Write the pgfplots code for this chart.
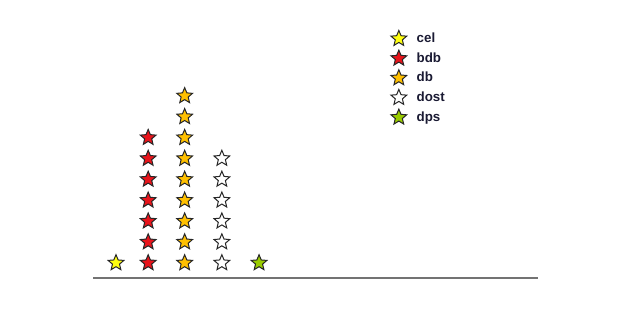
\documentclass[border=0pt]{standalone}
\usepackage{fontspec}
\setmainfont{Liberation Sans}
\usepackage{pgfplots}
\pgfplotsset{compat=1.18}
\pgfdeclareplotmark{fstar}{%
  \pgfpathmoveto{\pgfpointpolar{90}{\pgfplotmarksize}}%
  \pgfpathlineto{\pgfpointpolar{126}{0.45\pgfplotmarksize}}%
  \pgfpathlineto{\pgfpointpolar{162}{\pgfplotmarksize}}%
  \pgfpathlineto{\pgfpointpolar{198}{0.45\pgfplotmarksize}}%
  \pgfpathlineto{\pgfpointpolar{234}{\pgfplotmarksize}}%
  \pgfpathlineto{\pgfpointpolar{270}{0.45\pgfplotmarksize}}%
  \pgfpathlineto{\pgfpointpolar{306}{\pgfplotmarksize}}%
  \pgfpathlineto{\pgfpointpolar{342}{0.45\pgfplotmarksize}}%
  \pgfpathlineto{\pgfpointpolar{18}{\pgfplotmarksize}}%
  \pgfpathlineto{\pgfpointpolar{54}{0.45\pgfplotmarksize}}%
  \pgfpathclose
  \pgfusepathqfillstroke
}
\definecolor{cYel}{HTML}{FFFF10}
\definecolor{cRed}{HTML}{E8141B}
\definecolor{cGold}{HTML}{FFC000}
\definecolor{cGrn}{HTML}{99CC00}
\definecolor{cTxt}{HTML}{1A1A33}
\begin{document}
\begin{tikzpicture}
\useasboundingbox (0,0) rectangle (480pt,247.5pt);
\begin{axis}[
  at={(69.75pt,39pt)}, anchor=south west,
  scale only axis, width=333.75pt, height=152.25pt,
  xmin=0.357, xmax=12.80, ymin=0.28, ymax=10,
  axis x line=bottom, axis y line=none,
  axis line style={-, draw=black!55, line width=1.1pt},
  xtick=\empty, ytick=\empty,
  clip=false,
  every axis plot/.append style={only marks, mark=fstar, mark size=6.2pt, line width=0.75pt, draw=black!85},
  legend image code/.code={%
    \draw[mark repeat=2,mark phase=2,#1] plot coordinates {(0cm,0cm) (0.3cm,0cm) (0.6cm,0cm)};
    \path[draw=none,fill=none] (0.6cm,0cm) -- (0.70cm,0cm);},
  legend style={draw=none, fill=none, at={(0.669,1.222)}, anchor=north west,
    font=\fontsize{10}{11}\selectfont\bfseries, text=cTxt, row sep=2.0pt,
    inner sep=0pt},
  legend cell align=left,
]
\addplot[mark options={fill=cYel}] coordinates {(1,1)};
\addplot[mark options={fill=cRed}] coordinates {(1.9,1) (1.9,2) (1.9,3) (1.9,4) (1.9,5) (1.9,6) (1.9,7)};
\addplot[mark options={fill=cGold}] coordinates {(2.92,1) (2.92,2) (2.92,3) (2.92,4) (2.92,5) (2.92,6) (2.92,7) (2.92,8) (2.92,9)};
\addplot[mark options={fill=white}] coordinates {(3.96,1) (3.96,2) (3.96,3) (3.96,4) (3.96,5) (3.96,6)};
\addplot[mark options={fill=cGrn}] coordinates {(5,1)};
\legend{cel,bdb,db,dost,dps}
\end{axis}
\end{tikzpicture}
\end{document}
